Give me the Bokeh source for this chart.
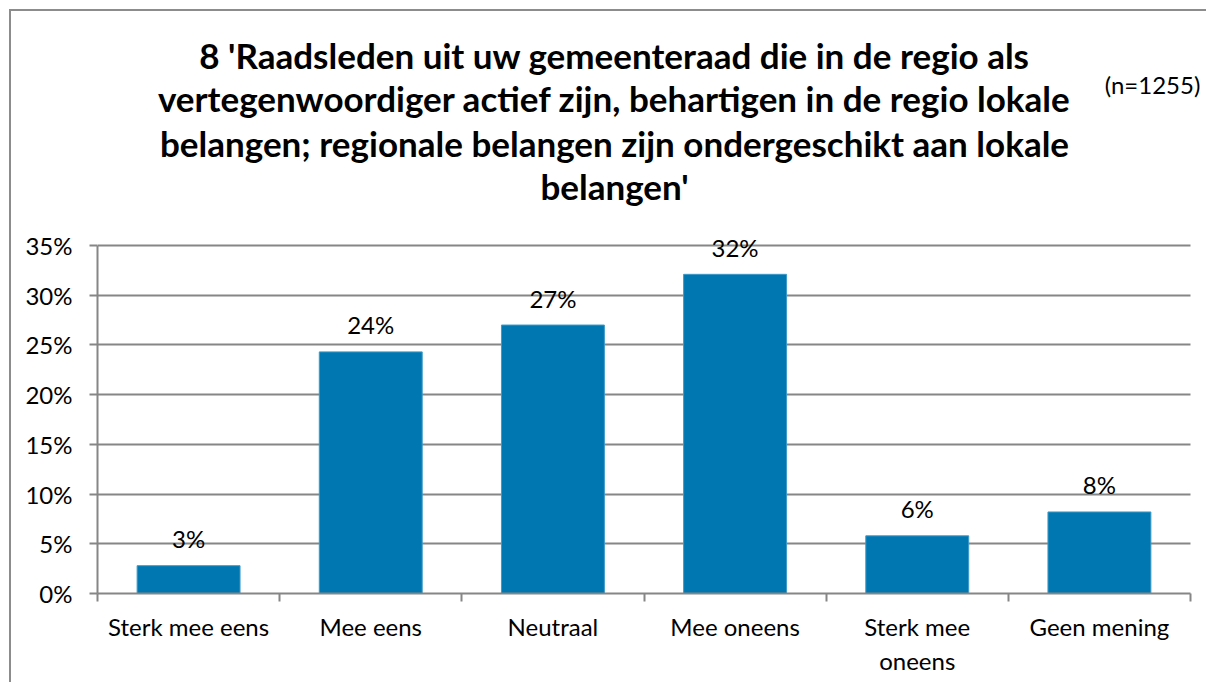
from bokeh.plotting import figure
from bokeh.models import (ColumnDataSource, LabelSet, Label, FixedTicker,
                          NumeralTickFormatter, Range1d)
from bokeh.core.properties import value
from bokeh.embed import file_html
from bokeh.resources import INLINE

categories = ["Sterk mee eens", "Mee eens", "Neutraal", "Mee oneens",
              "Sterk mee\noneens", "Geen mening"]
values = [0.028, 0.243, 0.270, 0.321, 0.058, 0.082]
y_ticks = [0, 0.05, 0.10, 0.15, 0.20, 0.25, 0.30, 0.35]
title_lines = ["8 'Raadsleden uit uw gemeenteraad die in de regio als",
               "vertegenwoordiger actief zijn, behartigen in de regio lokale",
               "belangen; regionale belangen zijn ondergeschikt aan lokale",
               "belangen'"]
note = "(n=1255)"

FONT = "Lato"
W, H = 1197, 673
LEFT, BOTTOM = 86, 91
AXIS_PX_Y = 348        # pixel height of the 0..35% part of the frame
AXIS_PX_X = 1093       # pixel width of the category part of the frame
n = len(categories)
y_max = y_ticks[-1]
y_end = y_max * (H - BOTTOM) / AXIS_PX_Y   # frame extends up to hold the title
x_end = n * (W - LEFT) / AXIS_PX_X         # and right to hold the note

xs = [i + 0.5 for i in range(n)]
src = ColumnDataSource(dict(x=xs, top=values,
                            label=[f"{round(v*100)}%" for v in values]))

p = figure(width=W, height=H, output_backend="svg", toolbar_location=None,
           x_range=Range1d(0, x_end), y_range=Range1d(0, y_end),
           min_border_left=LEFT, min_border_right=0, min_border_top=0,
           min_border_bottom=BOTTOM,
           styles={"border-left": "2px solid #8c8c8c",
                   "border-top": "2px solid #8c8c8c",
                   "margin-left": "9px", "margin-top": "9px"})
p.outline_line_color = None
p.background_fill_color = "white"
p.border_fill_color = "white"

p.vbar(x="x", top="top", width=0.565, source=src, fill_color="#0077B0",
       line_color="#3d9bc9", line_width=1)

p.add_layout(LabelSet(x="x", y="top", text="label", source=src,
                      text_align="center", text_baseline="middle", y_offset=27,
                      text_font=value(FONT), text_font_size="24px",
                      text_color="#000000"))

# axes
p.xaxis.ticker = FixedTicker(ticks=xs, minor_ticks=list(range(n + 1)))
p.xaxis.bounds = (0, n)
p.xaxis.major_label_overrides = {x: c for x, c in zip(xs, categories)}
p.xaxis.major_tick_out = 0
p.xaxis.major_tick_in = 0
p.xaxis.minor_tick_out = 8
p.xaxis.minor_tick_in = 0
p.xaxis.minor_tick_line_color = "#868686"
p.xaxis.minor_tick_line_width = 2
p.xaxis.major_label_standoff = 10
p.xaxis.axis_line_color = "#868686"
p.xaxis.axis_line_width = 2
p.xaxis.major_label_text_font = FONT
p.xaxis.major_label_text_font_size = "24px"
p.xaxis.major_label_text_color = "#000000"

p.yaxis.ticker = FixedTicker(ticks=y_ticks, minor_ticks=[])
p.yaxis.bounds = (0, y_max)
p.yaxis.formatter = NumeralTickFormatter(format="0%")
p.yaxis.major_tick_out = 8
p.yaxis.major_tick_in = 0
p.yaxis.major_tick_line_color = "#868686"
p.yaxis.major_tick_line_width = 2
p.yaxis.axis_line_color = "#868686"
p.yaxis.axis_line_width = 2
p.yaxis.major_label_standoff = 17
p.yaxis.major_label_text_font = FONT
p.yaxis.major_label_text_font_size = "24px"
p.yaxis.major_label_text_color = "#000000"

p.xgrid.grid_line_color = None
p.ygrid.grid_line_color = "#868686"
p.ygrid.grid_line_width = 2
p.ygrid.cross_bounds = (0, n)

# title lines (screen units relative to the plot frame)
title_y = [539, 496, 451, 408]
for t, ty in zip(title_lines, title_y):
    p.add_layout(Label(x=517, y=ty, x_units="screen", y_units="screen", text=t,
                       text_align="center", text_baseline="middle",
                       text_font=FONT, text_font_size="35px",
                       text_font_style="bold", text_color="#000000"))
p.add_layout(Label(x=1139, y=71, x_units="canvas", y_units="canvas", text=note,
                   text_align="center", text_baseline="middle",
                   text_font=FONT, text_font_size="24px", text_color="#000000"))

open("out.html", "w").write(file_html(p, INLINE))
